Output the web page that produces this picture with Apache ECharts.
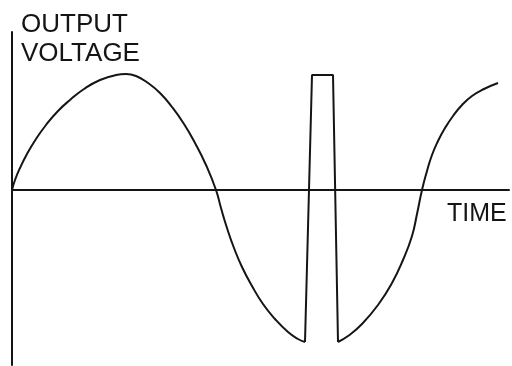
<!DOCTYPE html>
<html>
<head>
<meta charset="utf-8">
<script src="https://cdn.jsdelivr.net/npm/echarts@6/dist/echarts.min.js"></script>
<style>
  html, body { margin: 0; padding: 0; background: #fff; }
  #chart { width: 512px; height: 366px; }
</style>
</head>
<body>
<div id="chart"></div>
<script>
// points: [time, voltage], axis crossing = 0
const firstArc = [[0,0],[3,10],[8,22],[15,36],[24,51],[34,65],[46,79],[58,90],[72,101],[88,110],[104,115],[114,116],[124,114],[136,107],[148,97],[160,83],[172,66],[183,47],[194,25],[204,0],
    [209,-18],[215,-38],[222,-58],[230,-77],[240,-96],[251,-114],[263,-129],[276,-142],[286,-149],[293,-152]];
const spike = [[293,-152],[300,115],[321,115],[326,-152]];
const secondArc = [[326,-152],[336,-146],[350,-134],[366,-115],[380,-93],[391,-70],[400,-46],[405,-24],[410,0],
    [415,19],[420,35],[426,49],[433,62],[441,74],[450,85],[460,94],[472,101],[486,107]];

const yLabel = ['OUTPUT', 'VOLTAGE'];
const xLabel = 'TIME';

const ink = '#151515';
const font = 'Liberation Sans';

let myChart = echarts.init(document.getElementById('chart'));

let option = {
    animation: false,
    backgroundColor: '#fff',
    grid: {left: 12, right: 3, top: 32, bottom: 1},
    xAxis: {
        type: 'value', min: 0, max: 497,
        axisLine: {onZero: true, lineStyle: {color: ink, width: 2}},
        axisTick: {show: false}, axisLabel: {show: false}, splitLine: {show: false}
    },
    yAxis: {
        type: 'value', min: -175, max: 158,
        axisLine: {show: true, lineStyle: {color: ink, width: 2}},
        axisTick: {show: false}, axisLabel: {show: false}, splitLine: {show: false}
    },
    graphic: [
        {type: 'text', left: 21, top: 10, style: {text: yLabel.join('\n'), font: '26px "' + font + '"', lineHeight: 29, fill: ink}},
        {type: 'text', left: 447, top: 202, style: {text: xLabel, font: '25px "' + font + '"', fill: ink}}
    ],
    series: [
        {type: 'line', data: firstArc, smooth: 0.5, symbol: 'none', lineStyle: {color: ink, width: 2}},
        {type: 'line', data: spike, smooth: false, symbol: 'none', lineStyle: {color: ink, width: 2}},
        {type: 'line', data: secondArc, smooth: 0.5, symbol: 'none', lineStyle: {color: ink, width: 2}}
    ]
};

myChart.setOption(option);
</script>
</body>
</html>
